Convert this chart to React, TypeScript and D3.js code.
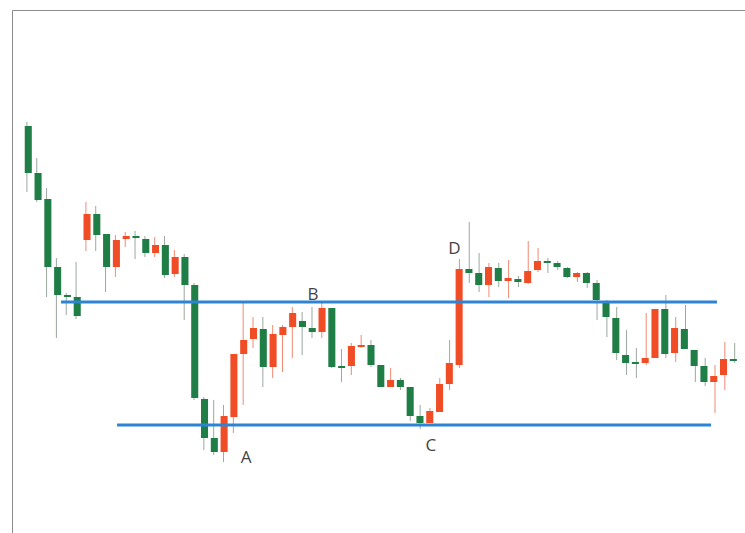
import React, { useEffect, useRef } from "react";
import * as d3 from "d3";

const W = 745;
const H = 533;

// OHLC candles (price units)
const opens = [117.4,112.7,110.1,103.3,100.5,100.3,106.0,108.6,106.6,103.3,106.1,106.4,106.1,104.7,105.5,102.6,104.3,101.5,90.1,86.2,84.8,88.3,94.6,96.1,97.1,93.3,96.5,97.3,97.9,97.2,96.8,99.2,93.4,93.4,95.3,95.5,93.5,91.3,92.0,91.3,88.4,87.7,88.8,91.6,93.5,103.1,102.7,101.5,103.2,101.9,102.1,101.7,103.0,103.9,103.7,103.2,102.3,102.7,101.7,99.7,98.2,94.5,93.8,93.7,94.2,99.1,94.7,97.1,95.0,93.4,91.8,92.5,94.1];
const highs = [117.8,114.2,111.2,104.2,100.7,103.8,109.8,109.4,106.6,106.5,106.8,106.9,106.4,106.3,106.4,105.0,104.6,101.7,90.3,90.0,89.5,94.6,99.7,98.3,98.3,97.5,97.5,99.3,98.8,99.3,99.7,99.2,95.1,95.7,96.5,96.0,93.5,93.2,92.2,91.3,89.5,89.2,92.2,96.0,104.1,107.8,104.7,103.7,103.7,104.0,102.4,105.9,105.2,104.2,103.9,103.3,102.8,102.8,102.0,100.0,99.3,97.0,95.2,98.7,99.1,100.5,98.3,99.5,95.0,94.2,93.5,95.8,95.7];
const lows = [110.8,109.8,100.3,96.2,98.5,98.1,104.9,104.9,100.8,102.3,105.3,104.1,104.3,104.3,102.2,102.3,98.0,90.0,85.0,84.5,83.8,86.7,89.5,95.2,91.3,92.2,92.8,94.2,94.5,96.2,96.2,93.2,91.8,92.5,95.2,93.3,91.3,91.3,91.0,87.9,87.1,87.7,88.8,91.0,93.2,101.7,100.8,100.3,101.3,100.2,101.3,101.6,102.8,102.7,103.0,102.2,101.8,101.2,98.0,96.3,94.0,92.5,92.2,93.5,94.2,94.2,93.8,95.1,91.8,91.4,88.7,91.0,93.7];
const closes = [112.7,110.0,103.3,100.5,100.3,98.4,108.6,106.5,103.3,106.0,106.4,106.2,104.7,105.5,102.5,104.3,101.5,90.2,86.2,84.8,88.4,94.6,96.0,97.2,93.3,96.6,97.3,98.7,97.3,96.8,99.2,93.3,93.3,95.4,95.5,93.5,91.3,92.0,91.3,88.4,87.7,88.9,91.6,93.7,103.1,102.7,101.5,103.3,101.9,102.2,101.8,102.9,103.9,103.7,103.3,102.3,102.7,101.7,100.0,98.3,94.7,93.7,93.7,94.2,99.1,94.6,97.2,95.1,93.4,91.8,92.4,94.1,94.0];

// horizontal support / resistance levels: price, start index, end index
const levelPrices = [99.8, 87.5];
const levelStarts = [3.47, 9.17];
const levelEnds = [70.2, 69.6];

// point labels
const labelTexts = ["A", "B", "C", "D"];
const labelIdx = [22.3, 29.1, 41.1, 43.5];
const labelPrices = [83.7, 100.0, 84.9, 104.6];

const UP = "#f04d26";
const DOWN = "#1f7d46";
const LINE = "#2e84d4";

export default function App() {
  const ref = useRef<SVGSVGElement>(null);

  useEffect(() => {
    const svg = d3.select(ref.current);
    svg.selectAll("*").remove();

    const idx = opens.map((_, i) => i);
    const x = d3.scaleBand<number>().domain(idx).range([22, 22 + 73 * 9.83]).padding(0.28);
    const xc = (i: number) => 22 + 9.83 * (i + 0.5);
    const y = d3.scaleLinear().domain([80, 120]).range([500, 100]);

    svg.append("rect").attr("width", W).attr("height", H).attr("fill", "#fff");

    // frame
    svg.append("path")
      .attr("d", `M12.5,${H} V10.5 H${W}`)
      .attr("fill", "none")
      .attr("stroke", "#8a8a8a")
      .attr("stroke-width", 1);

    const g = svg.append("g");
    const c = g.selectAll("g.c").data(idx).enter().append("g");
    c.append("line")
      .attr("x1", (i) => xc(i))
      .attr("x2", (i) => xc(i))
      .attr("y1", (i) => y(highs[i]))
      .attr("y2", (i) => y(lows[i]))
      .attr("stroke", (i) => (closes[i] >= opens[i] ? "#f08a74" : "#9aa89f"))
      .attr("stroke-width", 1);
    c.append("rect")
      .attr("x", (i) => x(i)!)
      .attr("width", x.bandwidth())
      .attr("y", (i) => y(Math.max(opens[i], closes[i])))
      .attr("height", (i) => Math.max(2, Math.abs(y(opens[i]) - y(closes[i]))))
      .attr("fill", (i) => (closes[i] >= opens[i] ? UP : DOWN));

    levelPrices.forEach((p, k) => {
      svg.append("line")
        .attr("x1", xc(levelStarts[k]))
        .attr("x2", xc(levelEnds[k]))
        .attr("y1", y(p))
        .attr("y2", y(p))
        .attr("stroke", LINE)
        .attr("stroke-width", 3);
    });

    labelTexts.forEach((t, k) => {
      svg.append("text")
        .attr("x", xc(labelIdx[k]))
        .attr("y", y(labelPrices[k]))
        .attr("text-anchor", "middle")
        .attr("font-family", "'Open Sans', sans-serif")
        .attr("font-size", 17)
        .attr("fill", "#454545")
        .text(t);
    });
  }, []);

  return (
    <svg
      ref={ref}
      width={W}
      height={H}
      style={{ position: "absolute", left: 0, top: 0, display: "block" }}
    />
  );
}
